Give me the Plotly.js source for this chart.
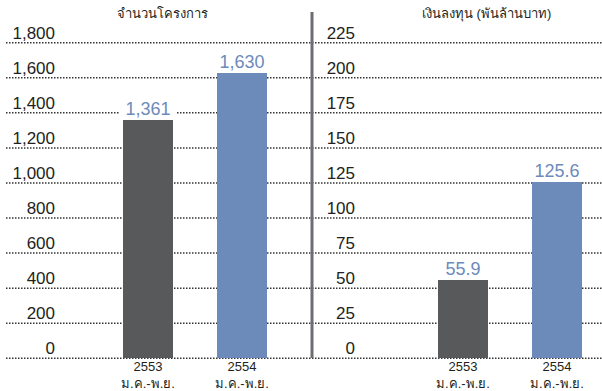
<!DOCTYPE html>
<html>
<head>
<meta charset="utf-8">
<script src="https://cdn.plot.ly/plotly-3.0.1.min.js"></script>
<style>html,body{margin:0;padding:0;background:#fff}#chart{width:602px;height:391px}</style>
</head>
<body>
<div id="chart"></div>
<script>
// ---- data ----
const categories = ['2553<br>ม.ค.-พ.ย.', '2554<br>ม.ค.-พ.ย.'];
const projects = [1361, 1630];
const projectLabels = ['1,361', '1,630'];
const investment = [55.9, 125.6];
const investmentLabels = ['55.9', '125.6'];
const leftTicks = [0, 200, 400, 600, 800, 1000, 1200, 1400, 1600, 1800];
const leftTickText = ['0', '200', '400', '600', '800', '1,000', '1,200', '1,400', '1,600', '1,800'];
const rightTicks = [0, 25, 50, 75, 100, 125, 150, 175, 200, 225];
const leftTitle = 'จำนวนโครงการ';
const rightTitle = 'เงินลงทุน (พันล้านบาท)';

// ---- styles ----
const W = 602, H = 391;
const FONT = 'Liberation Sans, Arial, Helvetica, sans-serif';
const TXT = '#231f20';
const barColors = ['#58595b', '#6d8bba'];
const labelColor = '#6d8bba';

const yDom = [(H - 361.8) / H, (H - 39.2) / H];

const traces = [
  { type: 'bar', x: categories, y: projects, xaxis: 'x', yaxis: 'y',
    marker: { color: barColors }, width: 0.532, hoverinfo: 'skip' },
  { type: 'bar', x: categories, y: investment, xaxis: 'x2', yaxis: 'y2',
    marker: { color: barColors }, width: 0.532, hoverinfo: 'skip' }
];

const annotations = [];
function addBarLabels(vals, labels, xa, ya) {
  vals.forEach((v, i) => {
    annotations.push({
      x: categories[i], y: v, xref: xa, yref: ya, text: labels[i],
      showarrow: false, yanchor: 'bottom', xanchor: 'center',
      bgcolor: '#ffffff', width: 56, height: 24, valign: 'bottom',
      borderpad: 0, font: { family: FONT, size: 18, color: labelColor }
    });
  });
}
addBarLabels(projects, projectLabels, 'x', 'y');
addBarLabels(investment, investmentLabels, 'x2', 'y2');
annotations.push({ x: 162 / W, y: (H - 14) / H, xref: 'paper', yref: 'paper', text: leftTitle,
  xanchor: 'center', yanchor: 'middle',
  showarrow: false, font: { family: FONT, size: 13, color: TXT } });
annotations.push({ x: 486 / W, y: (H - 14) / H, xref: 'paper', yref: 'paper', text: rightTitle,
  xanchor: 'center', yanchor: 'middle',
  showarrow: false, font: { family: FONT, size: 13, color: TXT } });

const shapes = leftTicks.map(v => ({
  type: 'line', xref: 'paper', yref: 'y', x0: 6 / W, x1: 1, y0: v, y1: v,
  layer: 'below', line: { color: '#333333', width: 1.5, dash: '1.5px,1.5px' }
}));
shapes.push({ type: 'line', xref: 'paper', yref: 'paper', x0: 312 / W, x1: 312 / W,
  y0: (H - 358) / H, y1: (H - 12) / H, layer: 'above', line: { color: '#6d6e71', width: 3 } });

const yCommon = { showgrid: false, zeroline: false, showline: false, ticks: '',
  tickfont: { family: FONT, size: 17, color: TXT }, ticklabelshift: -10, ticklabelstandoff: 2, domain: yDom };
const xCommon = { type: 'category', showgrid: false, zeroline: false, showline: false, ticks: '',
  tickfont: { family: FONT, size: 13, color: TXT }, ticklabelstandoff: -5, fixedrange: true };

const layout = {
  width: W, height: H, margin: { l: 0, r: 0, t: 0, b: 0 },
  paper_bgcolor: '#fff', plot_bgcolor: 'rgba(0,0,0,0)', showlegend: false, bargap: 0,
  xaxis: Object.assign({}, xCommon, { domain: [58 / W, 311 / W], range: [-0.9574, 1.734], anchor: 'y' }),
  xaxis2: Object.assign({}, xCommon, { domain: [358 / W, 1], range: [-1.117, 1.479], anchor: 'y2' }),
  yaxis: Object.assign({}, yCommon, { range: [-20, 1820], tickvals: leftTicks, ticktext: leftTickText, anchor: 'x' }),
  yaxis2: Object.assign({}, yCommon, { range: [-2.5, 227.5], tickvals: rightTicks, anchor: 'x2' }),
  annotations: annotations, shapes: shapes
};

Plotly.newPlot('chart', traces, layout, { staticPlot: true, displayModeBar: false });
</script>
</body>
</html>
